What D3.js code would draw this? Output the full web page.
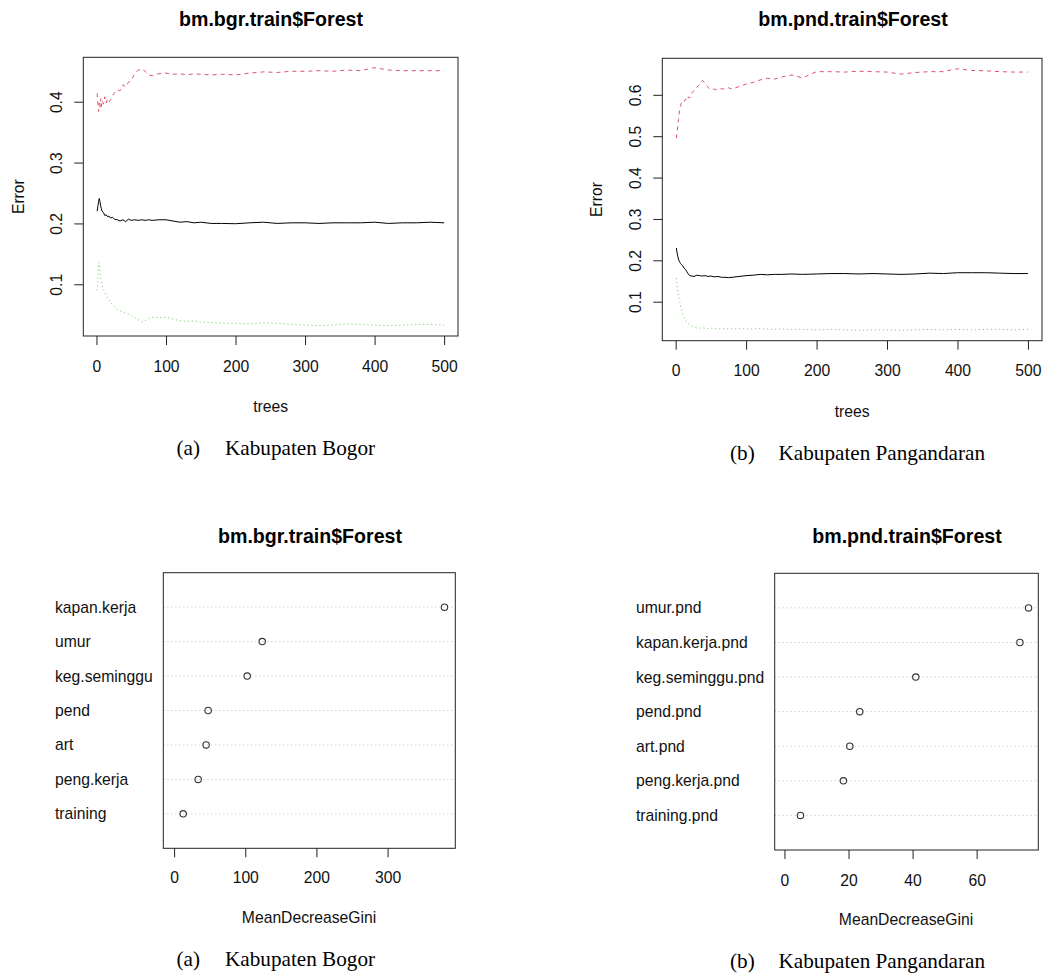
<!DOCTYPE html>
<html>
<head>
<meta charset="utf-8">
<script src="https://cdn.jsdelivr.net/npm/d3@7"></script>
<style>
  body { margin: 0; background: #fff; }
  text { font-family: "Liberation Sans", Arial, sans-serif; fill: #111; }
  .main { font-weight: bold; fill: #000; }
  .cap { font-family: "Liberation Serif", "Times New Roman", serif; fill: #000; }
</style>
</head>
<body>
<svg id="chart" width="1043" height="974"></svg>
<script>
var trees = [1, 2, 3, 4, 5, 6, 7, 8, 10, 12, 14, 16, 18, 20, 23, 26, 30, 34, 38, 42, 46, 50, 55, 60, 65, 70, 75, 80, 90, 100,
  110, 120, 130, 140, 150, 165, 180, 200, 220, 240, 260, 280, 300, 320, 340, 360, 380, 400, 420, 440, 460, 480, 500];

// Bogor
var bgrOOB = [0.220, 0.228, 0.236, 0.241, 0.236, 0.229, 0.224, 0.220, 0.218, 0.213, 0.214, 0.211, 0.212, 0.209, 0.210, 0.207, 0.206, 0.204, 0.206, 0.203,
  0.207, 0.205, 0.206, 0.205, 0.206, 0.205, 0.206, 0.205, 0.206, 0.206, 0.204, 0.202, 0.203, 0.201, 0.202, 0.200, 0.200, 0.1995, 0.201, 0.202,
  0.200, 0.201, 0.201, 0.200, 0.201, 0.201, 0.201, 0.202, 0.200, 0.201, 0.201, 0.202, 0.201];
var bgrClass1 = [0.414, 0.395, 0.384, 0.398, 0.390, 0.405, 0.392, 0.402, 0.396, 0.408, 0.398, 0.405, 0.400, 0.402, 0.410, 0.415, 0.420, 0.418, 0.428, 0.424,
  0.432, 0.435, 0.446, 0.452, 0.454, 0.450, 0.444, 0.443, 0.446, 0.447, 0.445, 0.446, 0.444, 0.446, 0.445, 0.444, 0.445, 0.444, 0.447, 0.449,
  0.448, 0.450, 0.450, 0.451, 0.450, 0.452, 0.451, 0.456, 0.452, 0.451, 0.451, 0.451, 0.451];
var bgrClass2 = [0.090, 0.112, 0.136, 0.134, 0.124, 0.110, 0.104, 0.099, 0.091, 0.087, 0.082, 0.077, 0.075, 0.072, 0.066, 0.063, 0.058, 0.056, 0.055, 0.053,
  0.051, 0.049, 0.045, 0.042, 0.038, 0.040, 0.044, 0.046, 0.045, 0.046, 0.043, 0.040, 0.039, 0.040, 0.038, 0.037, 0.036, 0.036, 0.035, 0.037,
  0.036, 0.034, 0.033, 0.032, 0.033, 0.035, 0.034, 0.033, 0.032, 0.033, 0.034, 0.034, 0.033];

// Pangandaran
var pndOOB = [0.230, 0.218, 0.210, 0.203, 0.198, 0.195, 0.192, 0.190, 0.187, 0.181, 0.178, 0.172, 0.167, 0.163, 0.162, 0.161, 0.164, 0.163, 0.162, 0.163,
  0.161, 0.162, 0.160, 0.161, 0.159, 0.159, 0.158, 0.159, 0.161, 0.163, 0.164, 0.166, 0.165, 0.166, 0.166, 0.167, 0.166, 0.167, 0.168, 0.168,
  0.167, 0.168, 0.167, 0.166, 0.167, 0.169, 0.168, 0.170, 0.170, 0.170, 0.169, 0.168, 0.168];
var pndClass1 = [0.495, 0.510, 0.524, 0.540, 0.556, 0.565, 0.572, 0.580, 0.584, 0.582, 0.590, 0.586, 0.595, 0.592, 0.605, 0.610, 0.618, 0.625, 0.635, 0.628,
  0.618, 0.612, 0.614, 0.611, 0.615, 0.613, 0.617, 0.614, 0.620, 0.626, 0.630, 0.636, 0.640, 0.638, 0.643, 0.648, 0.641, 0.656, 0.656, 0.655,
  0.657, 0.656, 0.655, 0.650, 0.654, 0.656, 0.656, 0.663, 0.659, 0.658, 0.656, 0.655, 0.655];
var pndClass2 = [0.157, 0.140, 0.125, 0.112, 0.104, 0.098, 0.090, 0.082, 0.070, 0.062, 0.056, 0.050, 0.047, 0.045, 0.041, 0.039, 0.037, 0.036, 0.0365, 0.036,
  0.035, 0.036, 0.035, 0.034, 0.035, 0.034, 0.035, 0.034, 0.035, 0.034, 0.034, 0.035, 0.034, 0.033, 0.034, 0.033, 0.033, 0.032, 0.033, 0.032,
  0.031, 0.032, 0.032, 0.031, 0.032, 0.033, 0.032, 0.033, 0.032, 0.033, 0.033, 0.032, 0.033];

var errTicksX = [0, 100, 200, 300, 400, 500];
var bgrTicksY = [0.1, 0.2, 0.3, 0.4];
var pndTicksY = [0.1, 0.2, 0.3, 0.4, 0.5, 0.6];

// variable importance, listed bottom to top
var bgrVars = ["training", "peng.kerja", "art", "pend", "keg.seminggu", "umur", "kapan.kerja"];
var bgrGini = [12.7, 33.8, 45.0, 47.8, 102.7, 123.8, 380.0];
var bgrTicksGini = [0, 100, 200, 300];
var pndVars = ["training.pnd", "peng.kerja.pnd", "art.pnd", "pend.pnd", "keg.seminggu.pnd", "kapan.kerja.pnd", "umur.pnd"];
var pndGini = [5.0, 18.4, 20.4, 23.5, 41.0, 73.5, 76.2];
var pndTicksGini = [0, 20, 40, 60];

var svg = d3.select("#chart");
svg.append("rect").attr("width", 1043).attr("height", 974).attr("fill", "#fff");

// R style 4% axis extension
function rRange(lo, hi) {
  var d = (hi - lo) * 0.04;
  return [lo - d, hi + d];
}

function frame(g, box) {
  g.append("rect")
    .attr("x", box.x0).attr("y", box.y0)
    .attr("width", box.x1 - box.x0).attr("height", box.y1 - box.y0)
    .attr("fill", "none").attr("stroke", "#222").attr("stroke-width", 1);
}

function xAxis(g, x, ticks, box, labelY) {
  var ax = g.append("g").attr("transform", "translate(0," + box.y1 + ")")
    .call(d3.axisBottom(x).tickValues(ticks).tickSize(9).tickFormat(d3.format("d")));
  ax.select(".domain").remove();
  ax.selectAll("line").attr("stroke", "#222");
  ax.selectAll("text").attr("y", labelY - box.y1).attr("dy", 0)
    .style("font-size", "15.7px").attr("fill", "#111");
}

function errorPlot(opt) {
  var g = svg.append("g");
  var box = opt.box;
  var x = d3.scaleLinear().domain(rRange(1, 500)).range([box.x0, box.x1]);
  var all = opt.series.reduce(function (a, s) { return a.concat(s.values); }, []);
  var y = d3.scaleLinear().domain(rRange(d3.min(all), d3.max(all))).range([box.y1, box.y0]);

  var line = d3.line()
    .x(function (d, i) { return x(trees[i]); })
    .y(function (d) { return y(d); });

  opt.series.forEach(function (s) {
    g.append("path")
      .attr("d", line(s.values))
      .attr("fill", "none")
      .attr("stroke", s.color)
      .attr("stroke-width", 1)
      .attr("stroke-dasharray", s.dash);
  });

  frame(g, box);
  xAxis(g, x, errTicksX, box, opt.tickY);

  var ay = g.append("g").attr("transform", "translate(" + box.x0 + ",0)")
    .call(d3.axisLeft(y).tickValues(opt.ticksY).tickSize(9).tickFormat(d3.format(".1f")));
  ay.select(".domain").remove();
  ay.selectAll("line").attr("stroke", "#222");
  ay.selectAll("text")
    .attr("transform", "rotate(-90)")
    .attr("x", 0).attr("y", -21.8).attr("dy", 0)
    .attr("text-anchor", "middle")
    .style("font-size", "15.7px").attr("fill", "#111");

  var cx = (box.x0 + box.x1) / 2;
  g.append("text").attr("class", "main").attr("x", opt.titleX).attr("y", 25.5)
    .attr("text-anchor", "middle").style("font-size", "19.6px").text(opt.title);
  g.append("text").attr("x", cx).attr("y", opt.xlabY)
    .attr("text-anchor", "middle").style("font-size", "15.7px").text("trees");
  g.append("text").attr("transform", "translate(" + opt.ylabX + "," + ((box.y0 + box.y1) / 2) + ") rotate(-90)")
    .attr("text-anchor", "middle").style("font-size", "15.7px").text("Error");
}

function dotPlot(opt) {
  var g = svg.append("g");
  var box = opt.box;
  var x = d3.scaleLinear().domain(rRange(0, d3.max(opt.values))).range([box.x0, box.x1]);
  var y = d3.scaleLinear().domain([0, opt.vars.length + 1]).range([box.y1, box.y0]);

  g.selectAll(".grid").data(opt.vars).enter().append("line")
    .attr("class", "grid")
    .attr("x1", box.x0).attr("x2", box.x1)
    .attr("y1", function (d, i) { return y(i + 1); })
    .attr("y2", function (d, i) { return y(i + 1); })
    .attr("stroke", "#bebebe").attr("stroke-width", 1).attr("stroke-dasharray", "1,3");

  g.selectAll(".pt").data(opt.values).enter().append("circle")
    .attr("class", "pt")
    .attr("cx", function (d) { return x(d); })
    .attr("cy", function (d, i) { return y(i + 1); })
    .attr("r", 3.2)
    .attr("fill", "none").attr("stroke", "#333").attr("stroke-width", 1.1);

  g.selectAll(".lab").data(opt.vars).enter().append("text")
    .attr("class", "lab")
    .attr("x", opt.labX)
    .attr("y", function (d, i) { return y(i + 1); })
    .attr("dy", "0.35em")
    .style("font-size", "15.7px")
    .text(function (d) { return d; });

  frame(g, box);
  xAxis(g, x, opt.ticks, box, opt.tickY);

  g.append("text").attr("class", "main").attr("x", opt.titleX).attr("y", 542.5)
    .attr("text-anchor", "middle").style("font-size", "19.6px").text(opt.title);
  g.append("text").attr("x", opt.xlabX).attr("y", opt.xlabY)
    .attr("text-anchor", "middle").style("font-size", "15.7px").text("MeanDecreaseGini");
}

function caption(x, y, tag, name) {
  var t = svg.append("text").attr("class", "cap").attr("y", y).style("font-size", "21.2px");
  t.append("tspan").attr("x", x).text(tag);
  t.append("tspan").attr("x", x + 48.5).text(name);
}

errorPlot({
  box: { x0: 83.3, x1: 458, y0: 57.3, y1: 336 },
  title: "bm.bgr.train$Forest", titleX: 271,
  series: [
    { values: bgrOOB, color: "#000", dash: null },
    { values: bgrClass1, color: "#DF536B", dash: "4,4" },
    { values: bgrClass2, color: "#61D04F", dash: "1,3" }
  ],
  ticksY: bgrTicksY, tickY: 372, xlabY: 411.5, ylabX: 24
});

errorPlot({
  box: { x0: 662.3, x1: 1042, y0: 58.3, y1: 340.7 },
  title: "bm.pnd.train$Forest", titleX: 853,
  series: [
    { values: pndOOB, color: "#000", dash: null },
    { values: pndClass1, color: "#DF536B", dash: "4,4" },
    { values: pndClass2, color: "#61D04F", dash: "1,3" }
  ],
  ticksY: pndTicksY, tickY: 376.5, xlabY: 416.5, ylabX: 601.5
});

dotPlot({
  box: { x0: 163.3, x1: 455.3, y0: 572.7, y1: 848.3 },
  title: "bm.bgr.train$Forest", titleX: 310,
  vars: bgrVars, values: bgrGini, ticks: bgrTicksGini,
  labX: 55, tickY: 883, xlabX: 309, xlabY: 923
});

dotPlot({
  box: { x0: 774.7, x1: 1038.3, y0: 573.3, y1: 850 },
  title: "bm.pnd.train$Forest", titleX: 907,
  vars: pndVars, values: pndGini, ticks: pndTicksGini,
  labX: 636, tickY: 885.5, xlabX: 906, xlabY: 924.5
});

caption(176.5, 455, "(a)", "Kabupaten Bogor");
caption(730, 460, "(b)", "Kabupaten Pangandaran");
caption(176.5, 966, "(a)", "Kabupaten Bogor");
caption(730, 968, "(b)", "Kabupaten Pangandaran");
</script>
</body>
</html>
